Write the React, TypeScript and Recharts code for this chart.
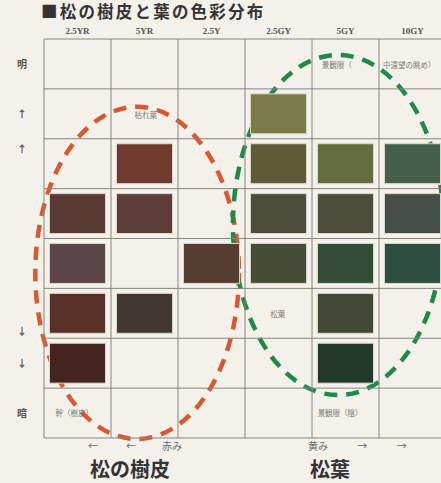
import { ScatterChart, Scatter, XAxis, YAxis, ReferenceLine, ReferenceArea, ReferenceDot } from "recharts";

// Munsell hue columns across the top
const hueColumns = ["2.5YR", "5YR", "2.5Y", "2.5GY", "5GY", "10GY"];

// brightness labels down the left side (row position in cell units, top = 0)
const rowLabelPos = [0.5, 1.5, 2.2, 5.85, 6.5, 7.5];
const rowLabelText = ["明", "↑", "↑", "↓", "↓", "暗"];

// colour swatches: column index, row index, colour
const swatchCol = [3, 1, 3, 4, 5, 0, 1, 3, 4, 5, 0, 2, 3, 4, 5, 0, 1, 4, 0, 4];
const swatchRow = [1, 2, 2, 2, 2, 3, 3, 3, 3, 3, 4, 4, 4, 4, 4, 5, 5, 5, 6, 6];
const swatchColor = [
  "#7b7a4b",
  "#6e3a2e", "#5f5b36", "#646d40", "#44604b",
  "#5c3a34", "#5e3d38", "#4c4e3b", "#4e4d3b", "#454e47",
  "#5a4649", "#563d31", "#464b37", "#314d37", "#2d4e3e",
  "#583026", "#403632", "#434836",
  "#45241f", "#22392c",
];

// notes written inside the grid
const noteX = [1.52, 4.37, 5.45, 3.49, 0.45, 4.42];
const noteY = [1.53, 0.52, 0.52, 5.51, 7.5, 7.5];
const noteText = ["枯れ葉", "景観限（", "中遠望の眺め）", "松葉", "幹（樹皮）", "景観限（陰）"];

// direction hints under the grid
const bottomTickPos = [0.73, 1.3, 1.91, 4.09, 4.75, 5.34];
const bottomTickText = ["←", "←", "赤み", "黄み", "→", "→"];
const BOTTOM_ROW = 8.17;

// dashed groupings: [x1, x2, y1, y2] in cell units
const barkEllipse = [-0.13, 2.91, 1.36, 8.02];
const needleEllipse = [2.82, 5.96, 0.32, 7.14];

const colLines = [0, 1, 2, 3, 4, 5, 6];
const rowLines = [0, 1, 2, 3, 4, 5, 6, 7, 8];

const CELL_W = 67;
const CELL_H = 399 / 8;

const swatches = swatchCol.map((c, i) => ({ x: c + 0.5, y: swatchRow[i] + 0.5, color: swatchColor[i] }));

const SwatchShape = (props: any) => {
  const { cx, cy, payload } = props;
  const w = CELL_W - 11;
  const h = CELL_H - 10;
  return (
    <rect x={cx - w / 2} y={cy - h / 2} width={w} height={h} fill={payload.color} stroke="#d8d6cc" strokeWidth={1} />
  );
};

const ellipseShape = (color: string) => (props: any) => {
  const { x, y, width, height } = props;
  return (
    <ellipse
      cx={x + width / 2}
      cy={y + height / 2}
      rx={width / 2}
      ry={height / 2}
      fill="none"
      stroke={color}
      strokeWidth={4.5}
      strokeDasharray="13 9"
    />
  );
};

const HueTick = (props: any) => {
  const { x, y, payload } = props;
  return (
    <text x={x} y={y} dy={3} textAnchor="middle" fontFamily="Liberation Serif" fontWeight={700} fontSize={9} fill="#555">
      {hueColumns[Math.floor(payload.value)]}
    </text>
  );
};

const RowTick = (props: any) => {
  const { y, payload } = props;
  const idx = rowLabelPos.indexOf(payload.value);
  return (
    <text x={22} y={y} dy={4} textAnchor="middle" fontFamily="Noto Sans CJK JP" fontWeight={700} fontSize={10} fill="#555">
      {rowLabelText[idx]}
    </text>
  );
};

export default function App() {
  return (
    <div
      style={{
        position: "absolute",
        top: 0,
        left: 0,
        width: 441,
        height: 483,
        overflow: "hidden",
        background: "#f3f1ea",
        fontFamily: "'Noto Sans CJK JP', sans-serif",
      }}
    >
      <div
        style={{
          position: "absolute",
          left: 41,
          top: 3,
          fontSize: 16.5,
          lineHeight: "17px",
          letterSpacing: 2.2,
          fontWeight: 700,
          color: "#333",
          whiteSpace: "nowrap",
        }}
      >
        ■松の樹皮と葉の色彩分布
      </div>
      <ScatterChart width={460} height={483} margin={{ top: 0, right: 14, left: 0, bottom: 45 }}>
        <XAxis
          xAxisId="top"
          orientation="top"
          type="number"
          dataKey="x"
          domain={[0, 6]}
          ticks={[0.5, 1.5, 2.5, 3.5, 4.5, 5.5]}
          height={39}
          tick={<HueTick />}
          tickLine={false}
          axisLine={false}
        />
        <YAxis
          type="number"
          dataKey="y"
          domain={[0, 8]}
          reversed
          ticks={rowLabelPos}
          width={44}
          tick={<RowTick />}
          tickLine={false}
          axisLine={false}
        />
        {colLines.map((v) => (
          <ReferenceLine key={"c" + v} xAxisId="top" x={v} stroke="#85847f" strokeWidth={1} />
        ))}
        {rowLines.map((v) => (
          <ReferenceLine key={"r" + v} xAxisId="top" y={v} stroke="#85847f" strokeWidth={1} />
        ))}
        <Scatter xAxisId="top" data={swatches} shape={<SwatchShape />} isAnimationActive={false} />
        {noteText.map((t, i) => (
          <ReferenceDot
            key={"n" + i}
            xAxisId="top"
            x={noteX[i]}
            y={noteY[i]}
            r={0}
            shape={(p: any) => (
              <text x={p.cx} y={p.cy} dy={3} textAnchor="middle" fontFamily="Noto Sans CJK JP" fontSize={7.5} fill="#7a7a76">
                {t}
              </text>
            )}
          />
        ))}
        {bottomTickText.map((t, i) => (
          <ReferenceDot
            key={"b" + i}
            xAxisId="top"
            x={bottomTickPos[i]}
            y={BOTTOM_ROW}
            r={0}
            ifOverflow="visible"
            shape={(p: any) => (
              <text x={p.cx} y={p.cy} dy={4} textAnchor="middle" fontFamily="Noto Sans CJK JP" fontSize={10} fill="#666">
                {t}
              </text>
            )}
          />
        ))}
        <ReferenceArea
          xAxisId="top"
          x1={barkEllipse[0]}
          x2={barkEllipse[1]}
          y1={barkEllipse[2]}
          y2={barkEllipse[3]}
          ifOverflow="visible"
          shape={ellipseShape("#d9582f")}
        />
        <ReferenceArea
          xAxisId="top"
          x1={needleEllipse[0]}
          x2={needleEllipse[1]}
          y1={needleEllipse[2]}
          y2={needleEllipse[3]}
          ifOverflow="visible"
          shape={ellipseShape("#1e8a48")}
        />
      </ScatterChart>
      <div style={{ position: "absolute", left: 90, top: 454, fontSize: 20, fontWeight: 700, color: "#333" }}>松の樹皮</div>
      <div style={{ position: "absolute", left: 310, top: 454, fontSize: 20, fontWeight: 700, color: "#333" }}>松葉</div>
    </div>
  );
}
